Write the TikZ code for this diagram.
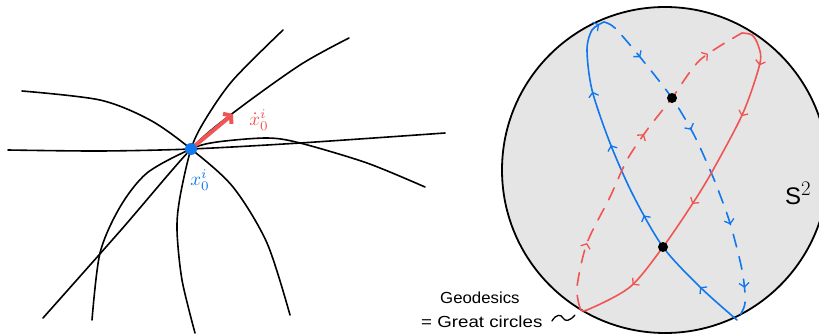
\documentclass[tikz,border=0pt]{standalone}
\usepackage{fontspec}
\usepackage{graphicx}
\setmainfont{Liberation Sans}
\usetikzlibrary{arrows.meta,decorations.markings}
\definecolor{gblue}{RGB}{17,119,238}
\definecolor{gred}{RGB}{240,85,85}
\definecolor{sph}{RGB}{229,229,229}
\newcommand\chv{\arrow[line width=1.3pt]{Straight Barb[length=4pt,width=10pt]}}
\tikzset{
  geo/.style={line width=1.6pt, black, line cap=round},
  loopline/.style={line width=1.6pt, line cap=round},
  backdash/.style={dash pattern=on 13pt off 10pt},
  dotpt/.style={circle, fill=black, inner sep=0pt, minimum size=10pt},
  lbl/.style={inner sep=1pt},
  captext/.style={inner sep=1pt, font=\fontsize{16}{19}\selectfont, anchor=west}
}
\begin{document}
\begin{tikzpicture}[x=1pt,y=-1pt]
\useasboundingbox (0,0) rectangle (819,334);
\clip (0,0) rectangle (819,334);
% ---------- left: geodesics through a point ----------
\coordinate (P) at (191,149);
\draw[geo] plot[smooth] coordinates {(8,150) (100,151) (P) (300,143) (445,133)};
\draw[geo] plot[smooth] coordinates {(22,91) (100,100) (150,120) (P) (233,187) (267,243) (290,315)};
\draw[geo] plot[smooth] coordinates {(283,30) (233,80) (205,120) (P) (180,197) (177,230) (182,280) (195,333)};
\draw[geo] plot[smooth] coordinates {(349,38) (300,65) (233,113) (P) (121,230) (43,318)};
\draw[geo] plot[smooth] coordinates {(425,187) (367,163) (300,143) (267,138) (217,142) (P) (147,173) (120,207) (100,253) (92,320)};
\coordinate (V) at (233,114);
\draw[gred, line width=4pt, -{Straight Barb[length=5pt,width=13pt]}] (P) -- (V);
\node[circle, fill=gblue, inner sep=0pt, minimum size=12pt] (Pd) at (P) {};
\node[lbl, text=gred] (vl) at (259,120) {\scalebox{1.9}{$\dot{x}^i_0$}};
\node[lbl, text=gblue] (xl) at (200,180) {\scalebox{1.9}{$x^i_0$}};
% ---------- right: sphere ----------
\draw[fill=sph, line width=1.8pt] (665,170) circle[radius=163pt];
% blue great circle
\draw[gblue, loopline, postaction={decorate}, decoration={markings,
   mark=at position 0.14 with {\chv},
   mark=at position 0.40 with {\chv},
   mark=at position 0.62 with {\chv},
   mark=at position 0.78 with {\chv},
   mark=at position 0.985 with {\chv}}]
  plot[smooth] coordinates {(737,320) (700,287) (663,247) (633,195) (610,143) (592,90) (587,50) (592,30) (604,22)};
\draw[gblue, loopline, backdash, postaction={decorate}, decoration={markings,
   mark=at position 0.15 with {\chv},
   mark=at position 0.41 with {\chv},
   mark=at position 0.71 with {\chv},
   mark=at position 0.90 with {\chv}}]
  plot[smooth] coordinates {(604,22) (615,28) (640,57) (672,98) (693,133) (707,163) (717,187) (730,223) (742,270) (745,303) (737,320)};
% red great circle
\draw[gred, loopline, postaction={decorate}, decoration={markings,
   mark=at position 0.12 with {\chv},
   mark=at position 0.27 with {\chv},
   mark=at position 0.55 with {\chv},
   mark=at position 0.83 with {\chv}}]
  plot[smooth] coordinates {(742,33) (752,35) (758,45) (760,63) (743,113) (713,170) (693,203) (663,247) (630,287) (587,310) (580,308)};
\draw[gred, loopline, backdash, postaction={decorate}, decoration={markings,
   mark=at position 0.20 with {\chv},
   mark=at position 0.57 with {\chv},
   mark=at position 0.88 with {\chv}}]
  plot[smooth] coordinates {(580,308) (577,287) (587,243) (610,197) (627,160) (647,130) (672,98) (700,60) (742,33)};
\node[dotpt] (d1) at (672,98) {};
\node[dotpt] (d2) at (663,247) {};
\node[lbl, font=\fontsize{24}{28}\selectfont] (S) at (798,193) {S$^{\scalebox{1.2}{$\scriptstyle 2$}}$};
% ---------- caption ----------
\node[captext] (g1) at (439,298) {\scalebox{1.05}[1]{Geodesics}};
\node[captext] (g2) at (420,322) {\scalebox{1.17}[1]{= Great circles}};
\draw[line width=1.3pt, line cap=round] (552,321) .. controls (556,314) and (561,314) .. (563,318) .. controls (565,322) and (570,321) .. (575,315);
\end{tikzpicture}
\end{document}
